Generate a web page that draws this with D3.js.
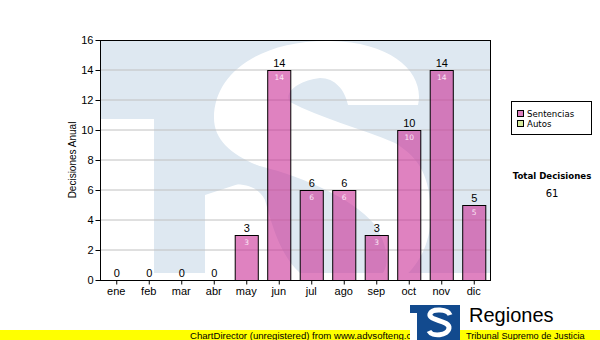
<!DOCTYPE html>
<html>
<head>
<meta charset="utf-8">
<script src="https://cdn.jsdelivr.net/npm/d3@7"></script>
<style>
  body { margin: 0; background: #fff; }
  svg { display: block; }
</style>
</head>
<body>
<svg id="chart" width="600" height="340"></svg>
<script>
const months = ['ene', 'feb', 'mar', 'abr', 'may', 'jun', 'jul', 'ago', 'sep', 'oct', 'nov', 'dic'];
const sentencias = [0, 0, 0, 0, 3, 14, 6, 6, 3, 10, 14, 5];
const yTicks = [0, 2, 4, 6, 8, 10, 12, 14, 16];
const legendItems = ['Sentencias', 'Autos'];
const legendColors = ['#dd7fbf', '#d6ea9c'];
const totalLabel = 'Total Decisiones';

const width = 600, height = 340;
const margin = { top: 40, right: 110, bottom: 60, left: 100 };

const svg = d3.select('#chart');

const x = d3.scaleBand()
  .domain(months)
  .range([margin.left, width - margin.right])
  .paddingInner(0.29)
  .paddingOuter(0.145);

const y = d3.scaleLinear()
  .domain([0, 16])
  .range([height - margin.bottom, margin.top]);

const x0 = margin.left, x1 = width - margin.right;
const y0 = height - margin.bottom, y1 = margin.top;

// watermark logo in the plot background
const bg = svg.append('g');
bg.append('rect').attr('x', x0).attr('y', y1).attr('width', x1 - x0).attr('height', 273 - y1).attr('fill', '#dee8f1');
bg.append('rect').attr('x', x0).attr('y', 119).attr('width', 54).attr('height', y0 - 119).attr('fill', '#fff');
bg.append('path')
  .attr('fill', '#fff')
  .attr('d', 'M418,105 C425,75 395,42 330,41 C262,40 214,72 214,118 C214,145 240,160 275,172 ' +
    'L205,195 L205,280 L400,280 C425,262 434,230 430,200 C427,170 415,155 395,143 ' +
    'C360,128 320,118 290,102 C283,92 300,80 320,78 C335,78 345,90 348,105 Z');
bg.append('path')
  .attr('fill', '#dee8f1')
  .attr('d', 'M200,160 L250,164 C290,172 350,195 375,225 C390,250 388,265 383,273 L300,273 ' +
    'C280,255 272,225 265,200 C258,185 240,180 205,188 Z');

// grid lines
svg.append('g')
  .selectAll('line')
  .data(yTicks.slice(1, -1))
  .join('line')
  .attr('x1', x0).attr('x2', x1)
  .attr('y1', d => y(d)).attr('y2', d => y(d))
  .attr('stroke', '#c0c0c0');

// bars
svg.append('g')
  .selectAll('rect')
  .data(months.map((m, i) => ({ m, v: sentencias[i] })).filter(d => d.v > 0))
  .join('rect')
  .attr('x', d => x(d.m) + 0.5)
  .attr('y', d => y(d.v) + 0.5)
  .attr('width', x.bandwidth())
  .attr('height', d => y(0) - y(d.v))
  .attr('fill', 'rgb(202,47,150)')
  .attr('fill-opacity', 0.6)
  .attr('stroke', '#000');

// plot border
svg.append('rect')
  .attr('x', x0 + 0.5).attr('y', y1 + 0.5)
  .attr('width', x1 - x0).attr('height', y0 - y1)
  .attr('fill', 'none').attr('stroke', '#000');

// value labels
svg.append('g')
  .selectAll('text')
  .data(sentencias)
  .join('text')
  .attr('x', (d, i) => x(months[i]) + x.bandwidth() / 2 + 0.5)
  .attr('y', d => y(d) - 3)
  .attr('text-anchor', 'middle')
  .attr('font-family', 'Liberation Sans, Arial, sans-serif')
  .attr('font-size', 11)
  .text(d => d);

svg.append('g')
  .selectAll('text')
  .data(sentencias.map((v, i) => ({ v, m: months[i] })).filter(d => d.v > 0))
  .join('text')
  .attr('x', d => x(d.m) + x.bandwidth() / 2 + 0.5)
  .attr('y', d => y(d.v) + 10)
  .attr('text-anchor', 'middle')
  .attr('font-family', 'DejaVu Sans, sans-serif')
  .attr('font-size', 7.5)
  .attr('fill', '#fbe6f4')
  .text(d => d.v);

// axes
const axisFont = g => g.selectAll('text')
  .attr('font-family', 'Liberation Sans, Arial, sans-serif')
  .attr('font-size', 11)
  .attr('fill', '#000');

svg.append('g')
  .attr('transform', `translate(${x0 + 0.5},0)`)
  .call(d3.axisLeft(y).tickValues(yTicks).tickSize(5).tickPadding(2))
  .call(g => g.select('.domain').remove())
  .call(g => g.selectAll('line').attr('stroke', '#000'))
  .call(axisFont);

svg.append('g')
  .attr('transform', `translate(0,${y0 + 0.5})`)
  .call(d3.axisBottom(x).tickSize(4).tickPadding(3))
  .call(g => g.select('.domain').remove())
  .call(g => g.selectAll('line').attr('stroke', '#000').attr('transform', 'translate(0.5,0)'))
  .call(axisFont);

svg.append('text')
  .attr('transform', `translate(76,${(y0 + y1) / 2}) rotate(-90)`)
  .attr('text-anchor', 'middle')
  .attr('font-family', 'Liberation Sans, Arial, sans-serif')
  .attr('font-size', 10)
  .text('Decisiones Anual');

// legend
const legend = svg.append('g').attr('font-family', 'DejaVu Sans, Verdana, sans-serif').attr('font-size', 8.6);
legend.append('rect')
  .attr('x', 511.5).attr('y', 101.5).attr('width', 80).attr('height', 33)
  .attr('fill', '#fff').attr('stroke', '#000');
legendItems.forEach((name, i) => {
  legend.append('rect')
    .attr('x', 517.5).attr('y', 110.5 + i * 10).attr('width', 6).attr('height', 6)
    .attr('fill', legendColors[i]).attr('stroke', '#000');
  legend.append('text')
    .attr('x', 527).attr('y', 117 + i * 10)
    .text(name);
});

svg.append('text')
  .attr('x', 552).attr('y', 179)
  .attr('text-anchor', 'middle')
  .attr('font-family', 'DejaVu Sans, Verdana, sans-serif')
  .attr('font-size', 8.6).attr('font-weight', 'bold')
  .text(totalLabel);
svg.append('text')
  .attr('x', 552).attr('y', 197)
  .attr('text-anchor', 'middle')
  .attr('font-family', 'DejaVu Sans, Verdana, sans-serif')
  .attr('font-size', 10)
  .text(d3.sum(sentencias));

// footer
svg.append('rect').attr('x', 0).attr('y', 330).attr('width', width).attr('height', 10).attr('fill', '#ffff00');
svg.append('text')
  .attr('x', 190).attr('y', 338.5)
  .attr('font-family', 'Liberation Sans, Arial, sans-serif')
  .attr('font-size', 9.6)
  .text('ChartDirector (unregistered) from www.advsofteng.com');

const logo = svg.append('g');
logo.append('rect').attr('x', 410).attr('y', 305).attr('width', 50).attr('height', 35).attr('fill', '#124a8e');
logo.append('rect').attr('x', 410).attr('y', 313).attr('width', 7).attr('height', 27).attr('fill', '#fff');
logo.append('path')
  .attr('fill', 'none').attr('stroke', '#fff').attr('stroke-width', 5)
  .attr('d', 'M450,315 C448,309 432,308 430,314 C428,321 450,320 449,328 C448,336 432,337 429,331');
logo.append('text')
  .attr('x', 469).attr('y', 322)
  .attr('font-family', 'Liberation Sans, Arial, sans-serif')
  .attr('font-size', 20)
  .text('Regiones');
logo.append('text')
  .attr('x', 466).attr('y', 339)
  .attr('font-family', 'Liberation Sans, Arial, sans-serif')
  .attr('font-size', 9.2)
  .text('Tribunal Supremo de Justicia');
</script>
</body>
</html>
